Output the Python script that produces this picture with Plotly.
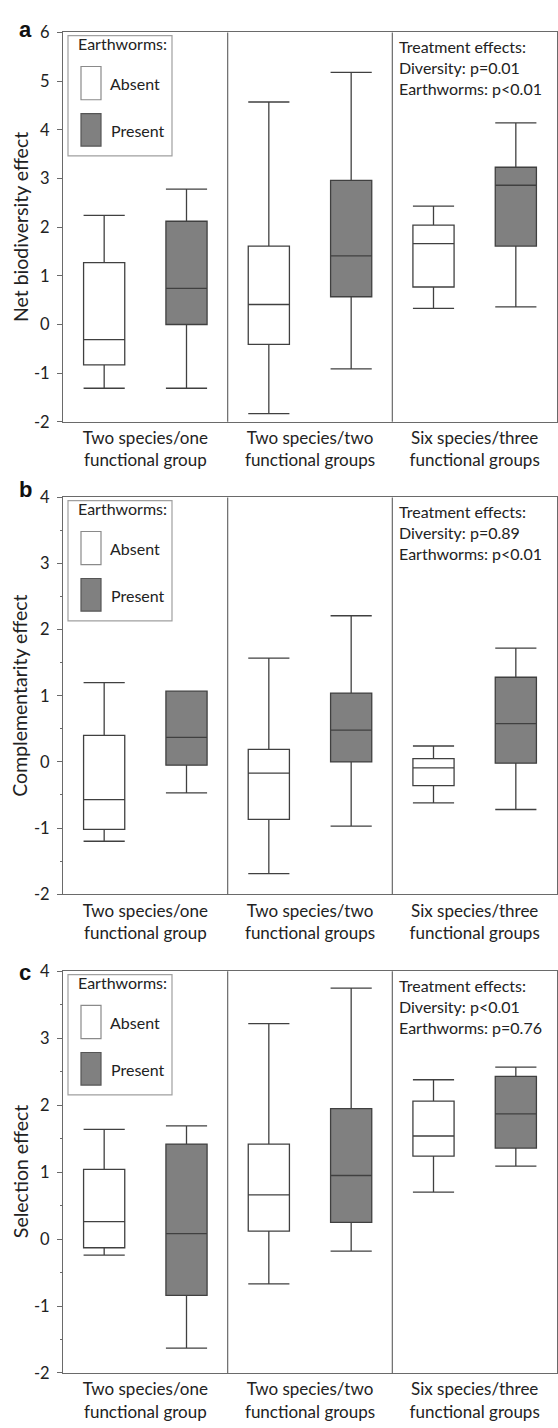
import plotly.graph_objects as go

W, H = 558, 1428

groups = ["Two species/one<br>functional group",
          "Two species/two<br>functional groups",
          "Six species/three<br>functional groups"]

# Panel a: Net biodiversity effect
a_absent_low = [-1.31, -1.83, 0.33]
a_absent_q1 = [-0.83, -0.41, 0.77]
a_absent_med = [-0.31, 0.41, 1.66]
a_absent_q3 = [1.27, 1.61, 2.04]
a_absent_high = [2.24, 4.57, 2.43]
a_present_low = [-1.31, -0.91, 0.36]
a_present_q1 = [0.0, 0.57, 1.61]
a_present_med = [0.74, 1.41, 2.86]
a_present_q3 = [2.12, 2.96, 3.23]
a_present_high = [2.78, 5.18, 4.14]

# Panel b: Complementarity effect
b_absent_low = [-1.20, -1.69, -0.62]
b_absent_q1 = [-1.02, -0.87, -0.36]
b_absent_med = [-0.57, -0.17, -0.09]
b_absent_q3 = [0.40, 0.19, 0.05]
b_absent_high = [1.20, 1.57, 0.24]
b_present_low = [-0.47, -0.97, -0.72]
b_present_q1 = [-0.05, 0.0, -0.02]
b_present_med = [0.37, 0.48, 0.58]
b_present_q3 = [1.07, 1.04, 1.28]
b_present_high = [1.07, 2.21, 1.72]

# Panel c: Selection effect
c_absent_low = [-0.24, -0.67, 0.70]
c_absent_q1 = [-0.13, 0.12, 1.24]
c_absent_med = [0.26, 0.66, 1.54]
c_absent_q3 = [1.04, 1.42, 2.06]
c_absent_high = [1.64, 3.22, 2.38]
c_present_low = [-1.63, -0.18, 1.09]
c_present_q1 = [-0.84, 0.25, 1.36]
c_present_med = [0.08, 0.95, 1.87]
c_present_q3 = [1.42, 1.95, 2.43]
c_present_high = [1.69, 3.75, 2.57]

a_tick_vals = [-2, -1, 0, 1, 2, 3, 4, 5, 6]
a_tick_text = ["-2", "-1", "0", "1", "2", "3", "4", "5", "6"]
bc_tick_vals = [-2, -1, 0, 1, 2, 3, 4]
bc_tick_text = ["-2", "-1", "0", "1", "2", "3", "4"]

y_titles = ["Net biodiversity effect", "Complementarity effect", "Selection effect"]
panel_letters = ["a", "b", "c"]
y_ranges = [[-2, 6], [-2, 4], [-2, 4]]
effects_text = [
    "Treatment effects:<br>Diversity: p=0.01<br>Earthworms: p<0.01",
    "Treatment effects:<br>Diversity: p=0.89<br>Earthworms: p<0.01",
    "Treatment effects:<br>Diversity: p<0.01<br>Earthworms: p=0.76",
]
legend_title = "Earthworms:"
series_names = ["Absent", "Present"]

panels = [
    (a_absent_low, a_absent_q1, a_absent_med, a_absent_q3, a_absent_high,
     a_present_low, a_present_q1, a_present_med, a_present_q3, a_present_high),
    (b_absent_low, b_absent_q1, b_absent_med, b_absent_q3, b_absent_high,
     b_present_low, b_present_q1, b_present_med, b_present_q3, b_present_high),
    (c_absent_low, c_absent_q1, c_absent_med, c_absent_q3, c_absent_high,
     c_present_low, c_present_q1, c_present_med, c_present_q3, c_present_high),
]
ticks = [(a_tick_vals, a_tick_text), (bc_tick_vals, bc_tick_text),
         (bc_tick_vals, bc_tick_text)]

# layout (pixels)
X0, X1 = 63, 557
panel_px = [(22.7, 417.7), (494.3, 896.7), (975.0, 1382.3)]
letter_px = [20, 486, 976]

FONT = "Lato"
TXT = "#222222"
AXC = "#6a6a6a"
BOXLINE = "#404040"
GRAY = "#808080"

fig = go.Figure()
shapes = []
annotations = []
layout = {}

for i, (pdata, (top, bot)) in enumerate(zip(panels, panel_px)):
    k = "" if i == 0 else str(i + 1)
    xa, ya = "x" + k, "y" + k
    (al, aq1, am, aq3, ah, pl, pq1, pm, pq3, ph) = pdata
    fig.add_trace(go.Box(x=groups, q1=aq1, median=am, q3=aq3, lowerfence=al,
                         upperfence=ah, name=series_names[0], fillcolor="white",
                         line=dict(color=BOXLINE, width=1.3), whiskerwidth=1,
                         boxpoints=False, xaxis=xa, yaxis=ya, showlegend=False,
                         offsetgroup="A"))
    fig.add_trace(go.Box(x=groups, q1=pq1, median=pm, q3=pq3, lowerfence=pl,
                         upperfence=ph, name=series_names[1], fillcolor=GRAY,
                         line=dict(color=BOXLINE, width=1.3), whiskerwidth=1,
                         boxpoints=False, xaxis=xa, yaxis=ya, showlegend=False,
                         offsetgroup="P"))
    dom_y = [1 - bot / H, 1 - top / H]
    layout["xaxis" + k] = dict(domain=[X0 / W, X1 / W], type="category",
                               range=[-0.5, 2.5], anchor=ya, showline=True,
                               linecolor=AXC, linewidth=1.2, mirror=True,
                               ticks="", showgrid=False, zeroline=False,
                               ticklabelstandoff=1,
                               tickfont=dict(family=FONT, size=17, color=TXT),
                               fixedrange=True)
    tv, tt = ticks[i]
    yax = dict(domain=dom_y, range=y_ranges[i], tickmode="array", tickvals=tv,
               ticktext=tt, anchor=xa,
               showline=True, linecolor=AXC, linewidth=1.2, mirror=True,
               ticks="outside", ticklen=5, tickcolor=AXC, showgrid=False,
               zeroline=False, ticklabelstandoff=4, fixedrange=True,
               tickfont=dict(family=FONT, size=16.5, color=TXT))
    if i > 0:
        yax["minor"] = dict(ticks="outside", ticklen=2, dtick=0.5,
                            tickcolor=AXC, showgrid=False)
    layout["yaxis" + k] = yax

    # dividers between diversity groups
    for fx in (1 / 3, 2 / 3):
        shapes.append(dict(type="line", xref=xa + " domain", yref=ya + " domain",
                           x0=fx, x1=fx, y0=0, y1=1,
                           line=dict(color=AXC, width=1.2)))

    ph_px = bot - top
    pw_px = X1 - X0

    def dx(p):
        return p / pw_px

    def dy(p):
        return 1 - p / ph_px

    # legend box
    shapes.append(dict(type="rect", xref=xa + " domain", yref=ya + " domain",
                       x0=dx(5), x1=dx(109), y0=dy(125.3), y1=dy(3.3),
                       line=dict(color="#a0a0a0", width=1.2), fillcolor="white"))
    shapes.append(dict(type="rect", xref=xa + " domain", yref=ya + " domain",
                       x0=dx(18), x1=dx(38), y0=dy(68.3), y1=dy(34.6),
                       line=dict(color="#8a8a8a", width=1.2), fillcolor="white"))
    shapes.append(dict(type="rect", xref=xa + " domain", yref=ya + " domain",
                       x0=dx(18), x1=dx(38), y0=dy(115.3), y1=dy(82.3),
                       line=dict(color="#555555", width=1.2), fillcolor=GRAY))
    for txt, lx, ly in [(legend_title, 13, 11), (series_names[0], 45, 51.5),
                        (series_names[1], 46, 100)]:
        annotations.append(dict(text=txt, xref=xa + " domain", yref=ya + " domain",
                                x=dx(lx), y=dy(ly), xanchor="left", yanchor="middle",
                                showarrow=False,
                                font=dict(family=FONT, size=16, color=TXT)))
    # treatment effects text
    annotations.append(dict(text=effects_text[i], xref=xa + " domain",
                            yref=ya + " domain", x=dx(334), y=dy(3),
                            xanchor="left", yanchor="top", align="left",
                            showarrow=False,
                            font=dict(family=FONT, size=16, color=TXT)))
    # y-axis title
    annotations.append(dict(text=y_titles[i], xref="paper", yref="paper",
                            x=20 / W, y=1 - (top + bot) / 2 / H, textangle=-90,
                            xanchor="center", yanchor="middle", showarrow=False,
                            font=dict(family=FONT, size=19.5, color=TXT)))
    # panel letter
    annotations.append(dict(text="<b>" + panel_letters[i] + "</b>", xref="paper",
                            yref="paper", x=25 / W, y=1 - letter_px[i] / H,
                            xanchor="center", yanchor="middle", showarrow=False,
                            font=dict(family="Liberation Sans", size=22, color="#111111")))

fig.update_layout(**layout)
fig.update_layout(width=W, height=H, margin=dict(l=0, r=0, t=0, b=0),
                  paper_bgcolor="white", plot_bgcolor="white",
                  boxmode="group", boxgap=0, boxgroupgap=0.5,
                  shapes=shapes, annotations=annotations, showlegend=False,
                  hovermode=False)

fig.write_html("out.html", config={"displayModeBar": False},
               post_script="document.body.style.margin='0px';")
